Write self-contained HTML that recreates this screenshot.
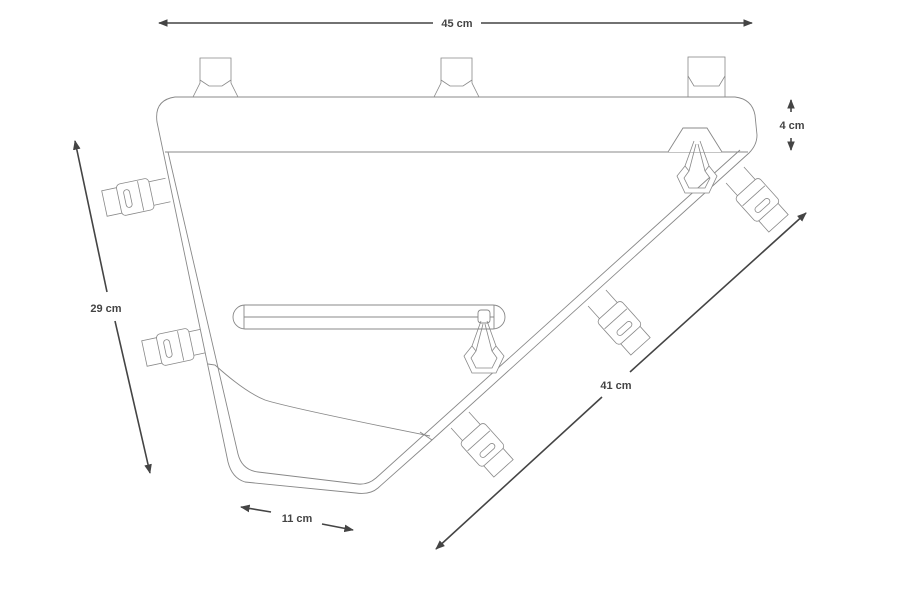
<!DOCTYPE html>
<html><head><meta charset="utf-8"><style>
html,body{margin:0;padding:0;background:#fff;}
svg{display:block;}
text{font-family:"Liberation Sans",sans-serif;font-size:11px;font-weight:bold;fill:#444;}
</style></head><body>
<svg width="908" height="601" viewBox="0 0 908 601" xmlns="http://www.w3.org/2000/svg">
<defs>
<marker id="ah" viewBox="0 0 10 10" refX="9" refY="5" markerWidth="6" markerHeight="6" orient="auto-start-reverse"><path d="M0,1 L10,5 L0,9 z" fill="#444"/></marker>
<g id="strap" fill="#fff" stroke="#888" stroke-width="0.8">
<path d="M0,-12 L46,-12 L46,12 L0,12"/>
<rect x="46" y="-13" width="19" height="26"/>
<rect x="17" y="-16" width="33" height="32" rx="4"/>
<line x1="28" y1="-15" x2="28" y2="15"/>
<rect x="38" y="-9" width="6" height="18" rx="3"/>
</g>
<g id="loop" fill="#fff" stroke="#888" stroke-width="0.8">
<path d="M-22,0 L-15,-14 L-15,-39 L16,-39 L16,-14 L23,0"/>
<path d="M-15,-17 L-6,-11 L7,-11 L16,-17"/>
</g>
<g id="pull" fill="#fff" stroke="#888" stroke-width="0.8">
<path d="M-3,3 L-12,28 M3,3 L12,28 M-1,6 L-8,33 M1,6 L8,33" fill="none"/>
<path d="M-12,28 L-20,38 L-12,55 L12,55 L20,38 L12,28 L8,33 L13,40 L8,50 L-8,50 L-13,40 L-8,33 z"/>
</g>
</defs>

<g stroke="#444" stroke-width="1.6" fill="none">
<line x1="159" y1="23" x2="433" y2="23" marker-start="url(#ah)"/>
<line x1="481" y1="23" x2="752" y2="23" marker-end="url(#ah)"/>
<line x1="791" y1="112" x2="791" y2="100" marker-end="url(#ah)"/>
<line x1="791" y1="138" x2="791" y2="150" marker-end="url(#ah)"/>
<line x1="107" y1="292" x2="75" y2="141" marker-end="url(#ah)"/>
<line x1="115" y1="321" x2="150" y2="473" marker-end="url(#ah)"/>
<line x1="630" y1="372" x2="806" y2="213" marker-end="url(#ah)"/>
<line x1="602" y1="397" x2="436" y2="549" marker-end="url(#ah)"/>
<line x1="271" y1="512" x2="241" y2="507" marker-end="url(#ah)"/>
<line x1="322" y1="524" x2="353" y2="530" marker-end="url(#ah)"/>
</g>
<text x="457" y="27" text-anchor="middle">45 cm</text>
<text x="792" y="129" text-anchor="middle">4 cm</text>
<text x="106" y="312" text-anchor="middle">29 cm</text>
<text x="616" y="389" text-anchor="middle">41 cm</text>
<text x="297" y="522" text-anchor="middle">11 cm</text>

<use href="#strap" transform="translate(168,190) rotate(168)"/>
<use href="#strap" transform="translate(208,340) rotate(168)"/>
<use href="#strap" transform="translate(735,175) rotate(48)"/>
<use href="#strap" transform="translate(597,298) rotate(48)"/>
<use href="#strap" transform="translate(460,420) rotate(48)"/>

<use href="#loop" transform="translate(215,97)"/>
<use href="#loop" transform="translate(456,97)"/>
<g fill="#fff" stroke="#888" stroke-width="0.8">
<rect x="688" y="57" width="37" height="40"/>
<path d="M688,76 L694,86 L719,86 L725,76"/>
</g>

<g fill="#fff" stroke="#888" stroke-width="0.9">
<path d="M185,97 L735,97 Q752,99 755,115 L757,135 Q757,145 749,153 L432,440 L378,488 Q370,495 356,493 L245,482 Q232,478 228,462 L157,122 Q154,100 175,97 z"/>
<path d="M165,152 L748,152" fill="none"/>
<path d="M168,152 L238,454 Q242,470 258,472 L358,484 Q368,485 376,478 L740,150" fill="none"/>
<path d="M208,364 L215,365 Q245,392 265,400 Q290,408 430,436" fill="none"/>
<path d="M432,440 L420,432" fill="none"/>
<path d="M668,152 L683,128 L707,128 L722,152"/>
<rect x="233" y="305" width="272" height="24" rx="12"/>
<line x1="244" y1="305" x2="244" y2="329"/>
<line x1="494" y1="305" x2="494" y2="329"/>
<line x1="244" y1="317" x2="494" y2="317"/>
<rect x="478" y="310" width="12" height="13" rx="3"/>
</g>
<use href="#pull" transform="translate(697,138)"/>
<use href="#pull" transform="translate(484,318)"/>
</svg>
</body></html>
